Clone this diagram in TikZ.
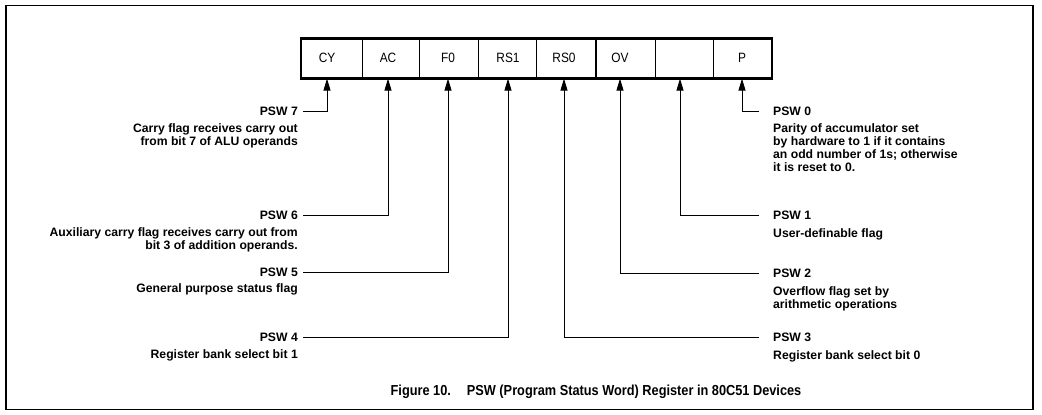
\documentclass[tikz,border=0pt]{standalone}
\usepackage{fontspec}
\setmainfont{Liberation Sans}
\newfontfamily\condfont[FakeStretch=0.88]{Liberation Sans}
\usetikzlibrary{arrows.meta}
\tikzset{
  frame/.style={draw, line width=1.6pt},
  cell/.style={draw, line width=1.2pt, minimum height=39pt, inner sep=0pt},
  lab/.style={font=\condfont\fontsize{13.5}{14}\selectfont, inner sep=0pt},
  psw/.style={font=\fontsize{12.2}{13}\selectfont\bfseries, inner sep=0pt},
  desc/.style={font=\fontsize{12.2}{13}\selectfont\bfseries, inner sep=0pt},
  conn/.style={draw, line width=0.9pt, -{Triangle[length=12pt,width=7pt]}},
  capt/.style={font=\condfont\fontsize{14.5}{16}\selectfont\bfseries, inner sep=0pt}
}
\begin{document}
\begin{tikzpicture}[x=1pt,y=-1pt]
\useasboundingbox (0,0) rectangle (1042,415);
\draw[frame] (6,5.5) rectangle (1033,409.5);

% register cells
\node[cell, minimum width=61pt]   (c7) at (332.2,58.5) {};
\node[cell, minimum width=56.6pt] (c6) at (391.0,58.5) {};
\node[cell, minimum width=59pt]   (c5) at (448.8,58.5) {};
\node[cell, minimum width=58.4pt] (c4) at (507.5,58.5) {};
\node[cell, minimum width=59.3pt] (c3) at (566.35,58.5) {};
\node[cell, minimum width=59.7pt] (c2) at (625.85,58.5) {};
\node[cell, minimum width=57.6pt] (c1) at (684.5,58.5) {};
\node[cell, minimum width=58.4pt] (c0) at (742.5,58.5) {};
\draw[line width=2pt] (c7.north west) rectangle (c0.south east);

% labels
\node[lab] (l7) at (327,58) {CY};
\node[lab] (l6) at (388,58) {AC};
\node[lab] (l5) at (448,58) {F0};
\node[lab] (l4) at (508,58) {RS1};
\node[lab] (l3) at (564,58) {RS0};
\node[lab] (l2) at (620,58) {OV};
\node[lab] (l1) at (680,58) {};
\node[lab] (l0) at (742,58) {P};

% left descriptions
\node[psw, anchor=east] (p7) at (298,111.5) {PSW 7};
\node[desc, anchor=north east, align=right] (d7) at (298,123) {Carry flag receives carry out\\from bit 7 of ALU operands};
\node[psw, anchor=east] (p6) at (298,215) {PSW 6};
\node[desc, anchor=north east, align=right] (d6) at (298,227.5) {Auxiliary carry flag receives carry out from\\bit 3 of addition operands.};
\node[psw, anchor=east] (p5) at (298,272) {PSW 5};
\node[desc, anchor=north east, align=right] (d5) at (298,283) {General purpose status flag};
\node[psw, anchor=east] (p4) at (298,337) {PSW 4};
\node[desc, anchor=north east, align=right] (d4) at (298,349.5) {Register bank select bit 1};

% right descriptions
\node[psw, anchor=west] (p0) at (773,111.5) {PSW 0};
\node[desc, anchor=north west, align=left] (d0) at (773,123) {Parity of accumulator set\\by hardware to 1 if it contains\\an odd number of 1s; otherwise\\it is reset to 0.};
\node[psw, anchor=west] (p1) at (773,215) {PSW 1};
\node[desc, anchor=north west, align=left] (d1) at (773,228.5) {User-definable flag};
\node[psw, anchor=west] (p2) at (773,273) {PSW 2};
\node[desc, anchor=north west, align=left] (d2) at (773,286.5) {Overflow flag set by\\arithmetic operations};
\node[psw, anchor=west] (p3) at (773,337) {PSW 3};
\node[desc, anchor=north west, align=left] (d3) at (773,350.5) {Register bank select bit 0};

% connectors
\draw[conn] ([xshift=5pt]p7.east) -| (l7 |- c7.south);
\draw[conn] ([xshift=5pt]p6.east) -| (l6 |- c6.south);
\draw[conn] ([xshift=5pt]p5.east) -| (l5 |- c5.south);
\draw[conn] ([xshift=5pt]p4.east) -| (l4 |- c4.south);
\draw[conn] ([xshift=-14pt]p0.west) -| (l0 |- c0.south);
\draw[conn] ([xshift=-14pt]p1.west) -| (l1 |- c1.south);
\draw[conn] ([xshift=-14pt]p2.west) -| (l2 |- c2.south);
\draw[conn] ([xshift=-14pt]p3.west) -| (l3 |- c3.south);

% caption
\node[capt] (cap) at (596,392) {Figure 10.\hspace{1.1em}PSW (Program Status Word) Register in 80C51 Devices};
\end{tikzpicture}
\end{document}
